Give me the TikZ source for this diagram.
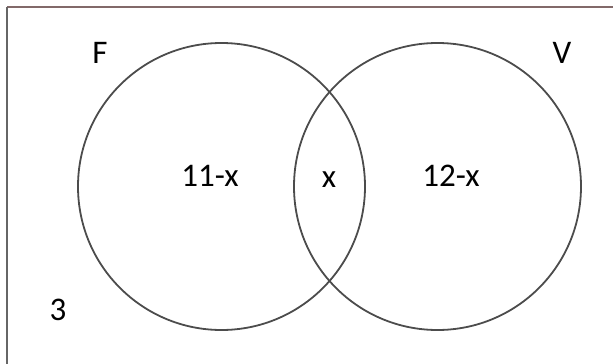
\documentclass[tikz,border=0pt]{standalone}
\usepackage{fontspec}
\setmainfont{Carlito}
\begin{document}
\begin{tikzpicture}[x=1pt,y=-1pt,
  ring/.style={draw=black!70,line width=1.8pt},
  lbl/.style={font=\fontsize{33}{38}\selectfont,inner sep=0pt,anchor=base}]
\useasboundingbox (0,0) rectangle (613,364);
\coordinate (tl) at (7,7);
\coordinate (tr) at (613,7);
\coordinate (bl) at (7,364);
\draw[line width=1.6pt,color={rgb,255:red,130;green,105;blue,105}] (tl) -- (tr);
\draw[line width=1.6pt,color=black!60] (tl) -- (bl);
\node[ring,circle,minimum size=287pt,inner sep=0pt] (F) at (221.5,186.5) {};
\node[ring,circle,minimum size=287pt,inner sep=0pt] (V) at (437.5,186.5) {};
\node[lbl] (lf) at (100,63) {F};
\node[lbl] (lv) at (562,63) {V};
\node[lbl] (a) at (210,186) {11-x};
\node[lbl] (b) at (329,187) {x};
\node[lbl] (c) at (451,186) {12-x};
\node[lbl] (d) at (58,320) {3};
\end{tikzpicture}
\end{document}
